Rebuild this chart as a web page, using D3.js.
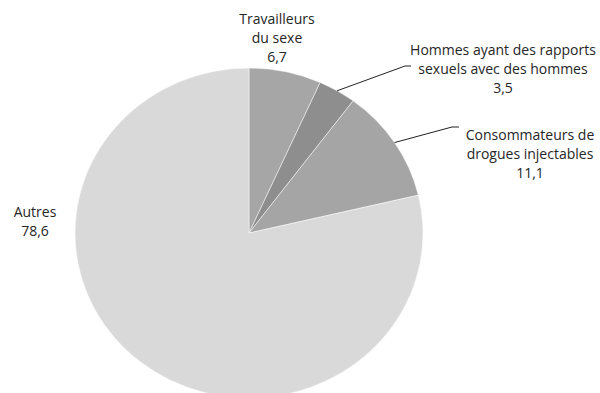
<!DOCTYPE html>
<html>
<head>
<meta charset="utf-8">
<script src="https://cdn.jsdelivr.net/npm/d3@7"></script>
<style>
  body { margin: 0; background: #fff; }
  svg { display: block; }
  text { font-family: "Open Sans", sans-serif; font-size: 14px; fill: #262626; }
</style>
</head>
<body>
<div id="chart"></div>
<script>
// pie data, clockwise from 12 o'clock
const categories = ["Travailleurs du sexe", "Hommes ayant des rapports sexuels avec des hommes", "Consommateurs de drogues injectables", "Autres"];
const values = [6.7, 3.5, 11.1, 78.6];
const valueLabels = ["6,7", "3,5", "11,1", "78,6"];
const labelLines = [
  ["Travailleurs", "du sexe"],
  ["Hommes ayant des rapports", "sexuels avec des hommes"],
  ["Consommateurs de", "drogues injectables"],
  ["Autres"]
];
const colors = ["#a6a6a6", "#8e8e8e", "#a5a5a5", "#d9d9d9"];

const width = 600, height = 393;
const cx = 249, cy = 233, rx = 174, ry = 165;

const svg = d3.select("#chart").append("svg")
  .attr("width", width)
  .attr("height", height);

const pie = d3.pie().sort(null).value(d => d);
const arcs = pie(values);
const arc = d3.arc().innerRadius(0).outerRadius(rx);

// slightly flattened pie, as in the source image
const g = svg.append("g")
  .attr("transform", `translate(${cx},${cy}) scale(1,${ry / rx})`);

g.selectAll("path.slice")
  .data(arcs)
  .enter().append("path")
  .attr("class", "slice")
  .attr("d", arc)
  .attr("fill", (d, i) => colors[i])
  .attr("stroke", "#fff")
  .attr("stroke-width", 0.5);

// label anchor positions (center x, first line y) and leader line ends
const labelPos = [
  { x: 277, y: 24, leader: null },
  { x: 503, y: 55, leader: [405, 66, 411] },
  { x: 530, y: 140, leader: [452, 127, 459] },
  { x: 35, y: 217, leader: null }
];

function edgePoint(d) {
  const a = (d.startAngle + d.endAngle) / 2;
  return [cx + rx * Math.sin(a), cy - ry * Math.cos(a)];
}

arcs.forEach((d, i) => {
  const p = labelPos[i];
  if (p.leader) {
    const [ex, ey] = edgePoint(d);
    svg.append("polyline")
      .attr("points", `${ex},${ey} ${p.leader[0]},${p.leader[1]} ${p.leader[2]},${p.leader[1]}`)
      .attr("fill", "none")
      .attr("stroke", "#222")
      .attr("stroke-width", 1);
  }
  const lines = labelLines[i].concat([valueLabels[i]]);
  const t = svg.append("text")
    .attr("text-anchor", "middle");
  lines.forEach((ln, k) => {
    t.append("tspan")
      .attr("x", p.x)
      .attr("y", p.y + k * 19)
      .text(ln);
  });
});
</script>
</body>
</html>
